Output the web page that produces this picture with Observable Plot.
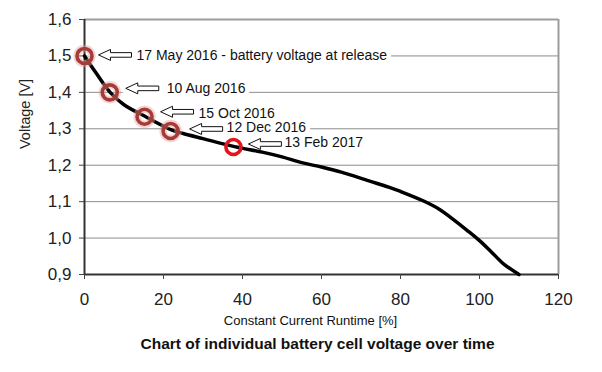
<!DOCTYPE html>
<html>
<head>
<meta charset="utf-8">
<script src="https://cdn.jsdelivr.net/npm/d3@7"></script>
<script src="https://cdn.jsdelivr.net/npm/@observablehq/plot@0.6"></script>
<style>
  body { margin: 0; background: #fff; }
  #chart svg { display: block; }
</style>
</head>
<body>
<div id="chart"></div>
<script>
// ---- data ----
const runtime = [0, 2.5, 6.5, 10, 15.5, 22, 25, 30, 38, 45, 50, 55, 60, 65, 72, 77, 80, 86, 90, 93, 97, 100, 103, 106, 110];
const voltage = [1.5, 1.46, 1.40, 1.366, 1.333, 1.297, 1.287, 1.273, 1.251, 1.236, 1.223, 1.207, 1.195, 1.181, 1.157, 1.14, 1.128, 1.101, 1.078, 1.054, 1.02, 0.993, 0.962, 0.93, 0.9];

const markerRuntime = [0, 6.4, 15.2, 21.8, 37.7];
const markerVoltage = [1.5, 1.40, 1.333, 1.294, 1.250];
const markerLabels = [
  "17 May 2016 - battery voltage at release",
  "10 Aug 2016",
  "15 Oct 2016",
  "12 Dec 2016",
  "13 Feb 2017"
];
const markerKind = ["past", "past", "past", "past", "latest"];

const xTicks = [0, 20, 40, 60, 80, 100, 120];
const yTicks = [0.9, 1.0, 1.1, 1.2, 1.3, 1.4, 1.5, 1.6];
const gridValues = [1.0, 1.1, 1.2, 1.3, 1.4, 1.5];
const xDomain = [0, 120];
const yDomain = [0.9, 1.6];

const xLabel = "Constant Current Runtime [%]";
const yLabel = "Voltage [V]";
const title = "Chart of individual battery cell voltage over time";

// ---- tables built from the arrays ----
const curve = runtime.map((x, i) => ({x, y: voltage[i]}));
const markers = markerRuntime.map((x, i) => ({x, y: markerVoltage[i], label: markerLabels[i], kind: markerKind[i]}));

// ---- styling / layout ----
const font = "'Liberation Sans', Arial, Helvetica, sans-serif";
const calloutOffsets = [
  {ax: 14, ay: -1, tx: 52, ty: 0},
  {ax: 16, ay: -4, tx: 57, ty: -4},
  {ax: 16, ay: -5, tx: 54, ty: -3},
  {ax: 19, ay: -2, tx: 56, ty: -3},
  {ax: 15, ay: -3, tx: 51, ty: -4}
];
// outlined left-pointing arrow, tip at origin
const arrowSymbol = {
  draw(ctx) {
    ctx.moveTo(0, 0);
    ctx.lineTo(12, -5.5);
    ctx.lineTo(12, -2.3);
    ctx.lineTo(33, -2.3);
    ctx.lineTo(33, 2.3);
    ctx.lineTo(12, 2.3);
    ctx.lineTo(12, 5.5);
    ctx.closePath();
  }
};

const backing = [];
const fronts = [];
markers.forEach((m, i) => {
  const o = calloutOffsets[i];
  backing.push(
    Plot.dot([m], {x: "x", y: "y", symbol: arrowSymbol, r: 5, fill: "white", stroke: "white", strokeWidth: 10, dx: o.ax, dy: o.ay}),
    Plot.text([m], {x: "x", y: "y", text: "label", dx: o.tx, dy: o.ty, textAnchor: "start", lineAnchor: "middle", fontSize: 14, fill: "white", stroke: "white", strokeWidth: 9, strokeLinejoin: "round"})
  );
  fronts.push(
    Plot.dot([m], {x: "x", y: "y", symbol: arrowSymbol, r: 5, fill: "white", stroke: "#111", strokeWidth: 1, dx: o.ax, dy: o.ay}),
    Plot.text([m], {x: "x", y: "y", text: "label", dx: o.tx, dy: o.ty, textAnchor: "start", lineAnchor: "middle", fontSize: 14, fill: "#111"})
  );
});

const past = markers.filter(d => d.kind === "past");
const latest = markers.filter(d => d.kind === "latest");

const chart = Plot.plot({
  width: 602,
  height: 372,
  marginLeft: 84,
  marginRight: 44,
  marginTop: 19,
  marginBottom: 98,
  style: {fontFamily: font, fontSize: "17px", color: "#222", background: "#fff"},
  x: {domain: xDomain},
  y: {domain: yDomain},
  marks: [
    Plot.ruleY(gridValues, {stroke: "#8c8c8c", strokeWidth: 1}),
    Plot.ruleY([yDomain[1]], {stroke: "#9c9c9c", strokeWidth: 2}),
    Plot.ruleX([xDomain[1]], {stroke: "#9c9c9c", strokeWidth: 2}),
    ...backing,
    Plot.ruleX([xDomain[0]], {stroke: "#333", strokeWidth: 2}),
    Plot.ruleY([yDomain[0]], {stroke: "#333", strokeWidth: 2}),
    Plot.axisY({ticks: yTicks, tickFormat: d => d.toFixed(1).replace(".", ","), tickSize: 5, tickPadding: 8, fontSize: 17, label: null, stroke: "#444", fill: "#222"}),
    Plot.axisX({ticks: xTicks, tickSize: 5, tickPadding: 13, fontSize: 17, label: null, stroke: "#444", fill: "#222"}),
    Plot.line(curve, {x: "x", y: "y", stroke: "#000", strokeWidth: 3.5, curve: "catmull-rom"}),
    Plot.dot(past, {x: "x", y: "y", r: 7.5, fill: "none", stroke: "#e8a3a3", strokeWidth: 7.5, strokeOpacity: 0.45}),
    Plot.dot(past, {x: "x", y: "y", r: 7.5, fill: "none", stroke: "#a53c37", strokeWidth: 3.6}),
    Plot.dot(latest, {x: "x", y: "y", r: 7.5, fill: "none", stroke: "#e0151d", strokeWidth: 3.6}),
    ...fronts,
    Plot.text([yLabel], {text: d => d, frameAnchor: "left", rotate: -90, dx: -59, dy: 2, fontSize: 14.5, fill: "#222"}),
    Plot.text([xLabel], {text: d => d, frameAnchor: "bottom", dx: -11, dy: 50, fontSize: 13, fill: "#111"}),
    Plot.text([title], {text: d => d, frameAnchor: "bottom", dx: -4, dy: 74, fontSize: 15.5, fontWeight: "bold", fill: "#111"})
  ]
});
document.getElementById("chart").appendChild(chart);
</script>
</body>
</html>
